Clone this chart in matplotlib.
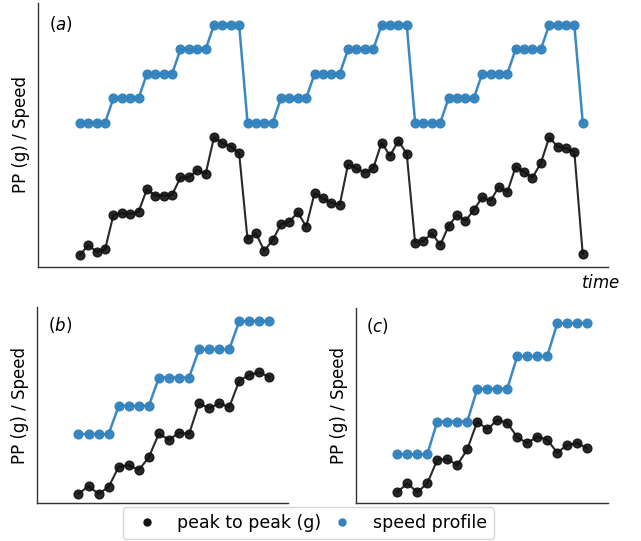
import matplotlib
matplotlib.use('Agg')
import matplotlib.pyplot as plt
from matplotlib.lines import Line2D
import numpy as np

# speed steps (arbitrary units), four samples per step
speed_levels = [6, 7, 8, 9, 10]

# (a) three ramps + one final sample
pp_a = [0.58, 0.99, 0.71, 0.81, 2.22, 2.29, 2.26, 2.35, 3.28, 3.01,
        3.01, 3.04, 3.76, 3.76, 4.06, 3.90, 5.40, 5.16, 5.02, 4.75,
        1.22, 1.47, 0.75, 1.19, 1.84, 1.94, 2.33, 1.74, 3.11, 2.90,
        2.72, 2.63, 4.30, 4.13, 3.95, 4.13, 5.18, 4.64, 5.26, 4.72,
        1.08, 1.16, 1.47, 0.99, 1.77, 2.22, 1.98, 2.42, 2.94, 2.80,
        3.38, 3.15, 4.20, 3.99, 3.75, 4.34, 5.40, 5.02, 4.95, 4.81,
        0.62]
ramp = [lv for lv in speed_levels for _ in range(4)]
speed_a = ramp * 3 + [speed_levels[0]]

# (b) single ramp
pp_b = [3.88, 4.16, 3.88, 4.13, 4.84, 4.90, 4.73, 5.18, 6.02, 5.79,
        6.05, 6.00, 7.09, 6.91, 7.09, 6.95, 7.89, 8.09, 8.19, 8.01]
speed_b = ramp

# (c) single ramp
pp_c = [4.84, 5.11, 4.84, 5.11, 5.83, 5.85, 5.67, 6.15, 7.00, 6.76,
        7.05, 6.96, 6.52, 6.34, 6.54, 6.44, 6.05, 6.28, 6.34, 6.18]
speed_c = ramp

blue = '#3182bd'
black = '#111111'

fig = plt.figure(figsize=(6.41, 5.41), dpi=100)
ax_a = fig.add_axes([0.0593, 0.5065, 0.889, 0.488])
ax_b = fig.add_axes([0.0585, 0.0697, 0.391, 0.363])
ax_c = fig.add_axes([0.5554, 0.0702, 0.393, 0.3605])

panels = [(ax_a, pp_a, speed_a, '$(a)$', (-5.0, 63.0), (0.09, 10.9), 0.02),
          (ax_b, pp_b, speed_b, '$(b)$', (-4.08, 20.86), (3.55, 10.5), 0.04),
          (ax_c, pp_c, speed_c, '$(c)$', (-4.13, 21.07), (4.51, 10.47), 0.04)]

for ax, pp, sp, lab, xl, yl, lx in panels:
    x = np.arange(len(pp))
    ax.plot(x, sp, '-o', color=blue, lw=1.8, ms=6.3, alpha=0.95)
    ax.plot(x, pp, '-o', color=black, lw=1.5, ms=6.3, alpha=0.9)
    ax.set_xlim(*xl)
    ax.set_ylim(*yl)
    ax.set_xticks([])
    ax.set_yticks([])
    for s in ['top', 'right']:
        ax.spines[s].set_visible(False)
    for s in ['left', 'bottom']:
        ax.spines[s].set_color('#333333')
        ax.spines[s].set_linewidth(1.0)
    ax.set_ylabel('PP (g) / Speed', fontsize=12, labelpad=6)
    ax.text(lx, 0.96, lab, transform=ax.transAxes, fontsize=12,
            ha='left', va='top')

fig.text(0.906, 0.477, '$time$', fontsize=12, ha='left', va='center')

handles = [Line2D([], [], ls='none', marker='o', color=black, ms=5),
           Line2D([], [], ls='none', marker='o', color=blue, ms=5)]
fig.legend(handles, ['peak to peak (g)', 'speed profile'], loc='lower center',
           bbox_to_anchor=(0.481, -0.013), ncol=2, fontsize=12.5,
           handletextpad=0.75, columnspacing=0.2, borderpad=0.4,
           frameon=True)

fig.savefig('out.png', dpi=100)
